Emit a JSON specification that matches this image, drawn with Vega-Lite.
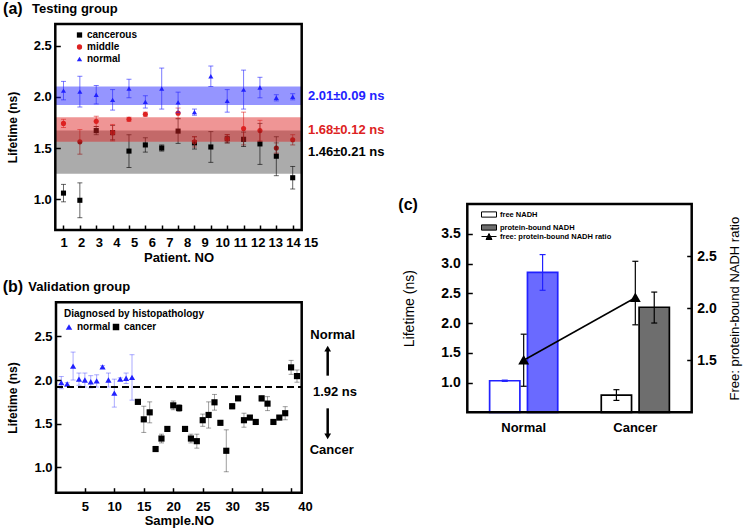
{
  "$schema": "https://vega.github.io/schema/vega-lite/v6.json",
  "width": 743,
  "height": 531,
  "autosize": {"type": "none"},
  "padding": 0,
  "background": "white",
  "config": {
    "view": {"stroke": null},
    "font": "Liberation Sans",
    "axis": {"grid": false, "domain": false, "labelColor": "black", "titleColor": "black", "tickColor": "black", "tickWidth": 1.5, "labelFont": "Liberation Sans", "titleFont": "Liberation Sans", "labelFontWeight": "bold", "titleFontWeight": "bold", "labelFlush": false, "labelOverlap": false},
    "legend": {"labelFont": "Liberation Sans", "titleFont": "Liberation Sans", "labelFontWeight": "bold", "titleFontWeight": "bold", "labelColor": "black", "titleColor": "black", "padding": 0},
    "text": {"font": "Liberation Sans"}
  },
  "datasets": {
    "a": [
      {"p": 1, "g": "cancerous", "v": 1.06, "e": 0.085},
      {"p": 2, "g": "cancerous", "v": 0.99, "e": 0.17},
      {"p": 3, "g": "cancerous", "v": 1.67, "e": 0.04},
      {"p": 4, "g": "cancerous", "v": 1.65, "e": 0.07},
      {"p": 5, "g": "cancerous", "v": 1.47, "e": 0.16},
      {"p": 6, "g": "cancerous", "v": 1.53, "e": 0.07},
      {"p": 7, "g": "cancerous", "v": 1.50, "e": 0.03},
      {"p": 8, "g": "cancerous", "v": 1.665, "e": 0.12},
      {"p": 9, "g": "cancerous", "v": 1.55, "e": 0.06},
      {"p": 10, "g": "cancerous", "v": 1.51, "e": 0.15},
      {"p": 11, "g": "cancerous", "v": 1.59, "e": 0.04},
      {"p": 12, "g": "cancerous", "v": 1.585, "e": 0.07},
      {"p": 13, "g": "cancerous", "v": 1.54, "e": 0.2},
      {"p": 14, "g": "cancerous", "v": 1.42, "e": 0.19},
      {"p": 15, "g": "cancerous", "v": 1.21, "e": 0.11},
      {"p": 1, "g": "middle", "v": 1.74, "e": 0.04},
      {"p": 2, "g": "middle", "v": 1.56, "e": 0.12},
      {"p": 3, "g": "middle", "v": 1.76, "e": 0.05},
      {"p": 4, "g": "middle", "v": 1.65, "e": 0.08},
      {"p": 5, "g": "middle", "v": 1.78, "e": 0.02},
      {"p": 6, "g": "middle", "v": 1.83, "e": 0.02},
      {"p": 8, "g": "middle", "v": 1.84, "e": 0.05},
      {"p": 9, "g": "middle", "v": 1.56, "e": 0.05},
      {"p": 11, "g": "middle", "v": 1.59, "e": 0.04},
      {"p": 12, "g": "middle", "v": 1.69, "e": 0.16},
      {"p": 13, "g": "middle", "v": 1.67, "e": 0.1},
      {"p": 14, "g": "middle", "v": 1.50, "e": 0.05},
      {"p": 15, "g": "middle", "v": 1.58, "e": 0.05},
      {"p": 1, "g": "normal", "v": 2.06, "e": 0.09},
      {"p": 2, "g": "normal", "v": 2.05, "e": 0.15},
      {"p": 3, "g": "normal", "v": 2.02, "e": 0.09},
      {"p": 4, "g": "normal", "v": 1.97, "e": 0.1},
      {"p": 5, "g": "normal", "v": 2.08, "e": 0.09},
      {"p": 6, "g": "normal", "v": 1.95, "e": 0.06},
      {"p": 7, "g": "normal", "v": 2.08, "e": 0.2},
      {"p": 8, "g": "normal", "v": 1.945, "e": 0.1},
      {"p": 9, "g": "normal", "v": 1.85, "e": 0.03},
      {"p": 10, "g": "normal", "v": 2.2, "e": 0.1},
      {"p": 11, "g": "normal", "v": 1.96, "e": 0.11},
      {"p": 12, "g": "normal", "v": 2.07, "e": 0.19},
      {"p": 13, "g": "normal", "v": 2.09, "e": 0.1},
      {"p": 14, "g": "normal", "v": 1.99, "e": 0.03},
      {"p": 15, "g": "normal", "v": 2.0, "e": 0.03}
    ],
    "bands": [
      {"g": "cancerous", "m": 1.46, "lo": 1.25, "hi": 1.67, "label": "1.46±0.21 ns"},
      {"g": "middle", "m": 1.68, "lo": 1.56, "hi": 1.80, "label": "1.68±0.12 ns"},
      {"g": "normal", "m": 2.01, "lo": 1.92, "hi": 2.10, "label": "2.01±0.09 ns"}
    ],
    "b": [
      {"s": 1, "g": "normal", "v": 1.97, "e": 0.07},
      {"s": 2, "g": "normal", "v": 1.955, "e": 0.015},
      {"s": 3, "g": "normal", "v": 2.16, "e": 0.16},
      {"s": 4, "g": "normal", "v": 2.01, "e": 0.07},
      {"s": 5, "g": "normal", "v": 2.0, "e": 0.08},
      {"s": 6, "g": "normal", "v": 1.98, "e": 0.07},
      {"s": 7, "g": "normal", "v": 1.99, "e": 0.07},
      {"s": 8, "g": "normal", "v": 2.15, "e": 0.015},
      {"s": 9, "g": "normal", "v": 2.0, "e": 0.08},
      {"s": 10, "g": "normal", "v": 1.85, "e": 0.16},
      {"s": 11, "g": "normal", "v": 2.01, "e": 0.015},
      {"s": 12, "g": "normal", "v": 2.02, "e": 0.06},
      {"s": 13, "g": "normal", "v": 2.03, "e": 0.26},
      {"s": 14, "g": "cancer", "v": 1.75, "e": 0.015},
      {"s": 15, "g": "cancer", "v": 1.55, "e": 0.15},
      {"s": 16, "g": "cancer", "v": 1.63, "e": 0.12},
      {"s": 17, "g": "cancer", "v": 1.21, "e": 0.015},
      {"s": 18, "g": "cancer", "v": 1.33, "e": 0.05},
      {"s": 19, "g": "cancer", "v": 1.44, "e": 0.015},
      {"s": 20, "g": "cancer", "v": 1.71, "e": 0.05},
      {"s": 21, "g": "cancer", "v": 1.68, "e": 0.04},
      {"s": 22, "g": "cancer", "v": 1.44, "e": 0.015},
      {"s": 23, "g": "cancer", "v": 1.33, "e": 0.05},
      {"s": 24, "g": "cancer", "v": 1.30, "e": 0.08},
      {"s": 25, "g": "cancer", "v": 1.54, "e": 0.07},
      {"s": 26, "g": "cancer", "v": 1.60, "e": 0.15},
      {"s": 27, "g": "cancer", "v": 1.745, "e": 0.09},
      {"s": 28, "g": "cancer", "v": 1.51, "e": 0.02},
      {"s": 29, "g": "cancer", "v": 1.19, "e": 0.24},
      {"s": 30, "g": "cancer", "v": 1.70, "e": 0.03},
      {"s": 31, "g": "cancer", "v": 1.79, "e": 0.015},
      {"s": 32, "g": "cancer", "v": 1.54, "e": 0.08},
      {"s": 33, "g": "cancer", "v": 1.57, "e": 0.02},
      {"s": 34, "g": "cancer", "v": 1.52, "e": 0.015},
      {"s": 35, "g": "cancer", "v": 1.79, "e": 0.03},
      {"s": 36, "g": "cancer", "v": 1.73, "e": 0.08},
      {"s": 37, "g": "cancer", "v": 1.52, "e": 0.02},
      {"s": 38, "g": "cancer", "v": 1.57, "e": 0.015},
      {"s": 39, "g": "cancer", "v": 1.62, "e": 0.075},
      {"s": 40, "g": "cancer", "v": 2.145, "e": 0.08},
      {"s": 41, "g": "cancer", "v": 2.045, "e": 0.07}
    ],
    "c": [
      {"grp": "Normal", "t": "free", "ftype": "free NADH", "v": 1.03, "lo": 1.02, "hi": 1.04},
      {"grp": "Normal", "t": "protein", "ftype": "protein-bound NADH (normal)", "v": 2.85, "lo": 2.55, "hi": 3.15},
      {"grp": "Cancer", "t": "free", "ftype": "free NADH", "v": 0.79, "lo": 0.70, "hi": 0.88},
      {"grp": "Cancer", "t": "protein", "ftype": "protein-bound NADH", "v": 2.265, "lo": 2.0, "hi": 2.52}
    ],
    "r": [
      {"grp": "Normal", "s": "free: protein-bound NADH ratio", "r": 1.50, "lo": 1.25, "hi": 1.75},
      {"grp": "Cancer", "s": "free: protein-bound NADH ratio", "r": 2.10, "lo": 1.84, "hi": 2.45}
    ]
  },
  "layer": [
    {
      "layer": [
        {
          "data": {"name": "a"},
          "mark": {"type": "point", "filled": true, "opacity": 1, "size": 26},
          "encoding": {
            "x": {"field": "p", "type": "quantitative", "title": "Patient. NO", "scale": {"domain": [0.5, 15.55], "range": [55.3, 301.7], "nice": false, "zero": false},
              "axis": {"orient": "bottom", "offset": -301, "values": [1,2,3,4,5,6,7,8,9,10,11,12,13,14,15], "format": "d", "tickSize": -5, "labelPadding": 11, "labelFontSize": 13, "title": "Patient. NO", "titleFontSize": 13, "titlePadding": 2,
                "labelOffset": {"expr": "(datum.value-1)*1.28"}}},
            "y": {"field": "v", "type": "quantitative", "title": "Lifetime (ns)", "scale": {"domain": [0.7, 2.71], "range": [230, 24], "nice": false, "zero": false},
              "axis": {"orient": "left", "offset": -55.3, "values": [1, 1.5, 2, 2.5], "format": ".1f", "tickSize": -5, "labelPadding": 9, "labelFontSize": 13, "title": "Lifetime (ns)", "titleFontSize": 12, "titlePadding": 14}},
            "color": {"field": "g", "type": "nominal", "scale": {"domain": ["cancerous", "middle", "normal"], "range": ["black", "#dd2222", "#2222ff"]},
              "legend": {"orient": "none", "legendX": 74.5, "legendY": 30, "title": null, "labelFontSize": 10, "symbolSize": 28, "labelOffset": 2.5, "rowPadding": 2, "symbolStrokeWidth": 0, "symbolOpacity": 1}},
            "shape": {"field": "g", "type": "nominal", "scale": {"domain": ["cancerous", "middle", "normal"], "range": ["square", "circle", "triangle-up"]},
              "legend": {"orient": "none", "legendX": 74.5, "legendY": 30, "title": null, "labelFontSize": 10, "symbolSize": 28, "labelOffset": 2.5, "rowPadding": 2, "symbolStrokeWidth": 0, "symbolOpacity": 1}}
          }
        },
        {
          "data": {"name": "a"},
          "mark": {"type": "errorbar", "ticks": true, "size": 5, "thickness": 1, "opacity": 0.6},
          "encoding": {
            "x": {"field": "p", "type": "quantitative", "title": "Patient. NO"},
            "y": {"field": "v", "type": "quantitative", "title": "Lifetime (ns)"},
            "yError": {"field": "e"},
            "color": {"field": "g", "type": "nominal", "legend": null}
          }
        },
        {
          "data": {"name": "bands"},
          "mark": {"type": "rect"},
          "encoding": {
            "x": {"datum": 0.5, "type": "quantitative"},
            "x2": {"datum": 15.55},
            "y": {"field": "lo", "type": "quantitative", "title": "Lifetime (ns)"},
            "y2": {"field": "hi"},
            "fill": {"condition": [{"test": "datum.g == 'normal'", "value": "#2222ff"}, {"test": "datum.g == 'middle'", "value": "#dd2222"}], "value": "black"},
            "fillOpacity": {"condition": {"test": "datum.g == 'cancerous'", "value": 0.33}, "value": 0.48}
          }
        },
        {
          "data": {"name": "bands"},
          "mark": {"type": "text", "align": "left", "baseline": "middle", "fontSize": 13, "fontWeight": "bold"},
          "encoding": {
            "x": {"datum": 15.93, "type": "quantitative"},
            "y": {"field": "m", "type": "quantitative", "title": "Lifetime (ns)"},
            "text": {"field": "label"},
            "color": {"field": "g", "type": "nominal", "legend": null}
          }
        },
        {
          "data": {"values": [{}]},
          "mark": {"type": "rect", "filled": false, "stroke": "black", "strokeWidth": 2.5},
          "encoding": {"x": {"datum": 0.5, "type": "quantitative"}, "x2": {"datum": 15.55}, "y": {"datum": 0.7, "type": "quantitative"}, "y2": {"datum": 2.71}}
        },
        {
          "data": {"values": [{}]},
          "mark": {"type": "text", "text": "(a)", "fontSize": 16, "fontWeight": "bold", "align": "left", "baseline": "middle", "color": "black"},
          "encoding": {"x": {"datum": -2.69, "type": "quantitative"}, "y": {"datum": 2.856, "type": "quantitative"}}
        },
        {
          "data": {"values": [{}]},
          "mark": {"type": "text", "text": "Testing group", "fontSize": 13, "fontWeight": "bold", "align": "left", "baseline": "middle", "color": "black"},
          "encoding": {"x": {"datum": -0.92, "type": "quantitative"}, "y": {"datum": 2.856, "type": "quantitative"}}
        }
      ]
    },
    {
      "layer": [
        {
          "data": {"name": "b"},
          "mark": {"type": "point", "filled": true, "opacity": 1, "size": 38},
          "encoding": {
            "x": {"field": "s", "type": "quantitative", "title": "Sample.NO", "scale": {"domain": [0.1, 41.8], "range": [56, 301.7], "nice": false, "zero": false},
              "axis": {"orient": "bottom", "offset": -38.3, "values": [5,10,15,20,25,30,35,40], "format": "d", "tickSize": -5, "labelPadding": 13, "labelFontSize": 13, "title": "Sample.NO", "titleFontSize": 13, "titlePadding": 1,
                "labelOffset": {"expr": "datum.value == 40 ? 14 : 0"}}},
            "y": {"field": "v", "type": "quantitative", "title": "Lifetime (ns)", "scale": {"domain": [0.71, 2.89], "range": [492.7, 302.3], "nice": false, "zero": false},
              "axis": {"orient": "left", "offset": -56, "values": [1, 1.5, 2, 2.5], "format": ".1f", "tickSize": -5, "labelPadding": 9, "labelFontSize": 13, "title": "Lifetime (ns)", "titleFontSize": 12, "titlePadding": 14}},
            "color": {"field": "g", "type": "nominal", "scale": {"domain": ["normal", "cancer"], "range": ["#2222ff", "black"]},
              "legend": {"orient": "none", "legendX": 64, "legendY": 309, "title": "Diagnosed by histopathology", "titleFontSize": 10, "titlePadding": 3, "direction": "horizontal", "labelFontSize": 10, "symbolSize": 42, "labelOffset": 3, "columnPadding": 0, "symbolStrokeWidth": 0, "symbolOpacity": 1}},
            "shape": {"field": "g", "type": "nominal", "scale": {"domain": ["normal", "cancer"], "range": ["triangle-up", "square"]},
              "legend": {"orient": "none", "legendX": 64, "legendY": 309, "title": "Diagnosed by histopathology", "titleFontSize": 10, "titlePadding": 3, "direction": "horizontal", "labelFontSize": 10, "symbolSize": 42, "labelOffset": 3, "columnPadding": 0, "symbolStrokeWidth": 0, "symbolOpacity": 1}}
          }
        },
        {
          "data": {"name": "b"},
          "mark": {"type": "errorbar", "ticks": true, "size": 5, "thickness": 1, "opacity": 0.38},
          "encoding": {
            "x": {"field": "s", "type": "quantitative", "title": "Sample.NO"},
            "y": {"field": "v", "type": "quantitative", "title": "Lifetime (ns)"},
            "yError": {"field": "e"},
            "color": {"field": "g", "type": "nominal", "legend": null}
          }
        },
        {
          "data": {"values": [{}]},
          "mark": {"type": "rule", "strokeDash": [7, 4], "strokeWidth": 2, "color": "black"},
          "encoding": {"x": {"datum": 0.1, "type": "quantitative"}, "x2": {"datum": 41.8}, "y": {"datum": 1.92, "type": "quantitative"}}
        },
        {
          "data": {"values": [{}]},
          "mark": {"type": "rule", "strokeWidth": 2.5, "color": "black"},
          "encoding": {"x": {"datum": 46.21, "type": "quantitative"}, "y": {"datum": 2.05, "type": "quantitative"}, "y2": {"datum": 2.34}}
        },
        {
          "data": {"values": [{}]},
          "mark": {"type": "rule", "strokeWidth": 2.5, "color": "black"},
          "encoding": {"x": {"datum": 46.21, "type": "quantitative"}, "y": {"datum": 1.676, "type": "quantitative"}, "y2": {"datum": 1.38}}
        },
        {
          "data": {"values": [{}]},
          "mark": {"type": "point", "shape": "triangle-up", "filled": true, "size": 45, "color": "black", "opacity": 1},
          "encoding": {"x": {"datum": 46.21, "type": "quantitative"}, "y": {"datum": 2.36, "type": "quantitative"}}
        },
        {
          "data": {"values": [{}]},
          "mark": {"type": "point", "shape": "triangle-down", "filled": true, "size": 45, "color": "black", "opacity": 1},
          "encoding": {"x": {"datum": 46.21, "type": "quantitative"}, "y": {"datum": 1.355, "type": "quantitative"}}
        },
        {
          "data": {"values": [{}]},
          "mark": {"type": "text", "text": "Normal", "fontSize": 13, "fontWeight": "bold", "align": "center", "baseline": "middle", "color": "black"},
          "encoding": {"x": {"datum": 47.06, "type": "quantitative"}, "y": {"datum": 2.52, "type": "quantitative"}}
        },
        {
          "data": {"values": [{}]},
          "mark": {"type": "text", "text": "1.92 ns", "fontSize": 13, "fontWeight": "bold", "align": "center", "baseline": "middle", "color": "black"},
          "encoding": {"x": {"datum": 47.45, "type": "quantitative"}, "y": {"datum": 1.866, "type": "quantitative"}}
        },
        {
          "data": {"values": [{}]},
          "mark": {"type": "text", "text": "Cancer", "fontSize": 13, "fontWeight": "bold", "align": "center", "baseline": "middle", "color": "black"},
          "encoding": {"x": {"datum": 46.89, "type": "quantitative"}, "y": {"datum": 1.199, "type": "quantitative"}}
        },
        {
          "data": {"values": [{}]},
          "mark": {"type": "rect", "filled": false, "stroke": "black", "strokeWidth": 2.5},
          "encoding": {"x": {"datum": 0.1, "type": "quantitative"}, "x2": {"datum": 41.8}, "y": {"datum": 0.71, "type": "quantitative"}, "y2": {"datum": 2.89}}
        },
        {
          "data": {"values": [{}]},
          "mark": {"type": "text", "text": "(b)", "fontSize": 16, "fontWeight": "bold", "align": "left", "baseline": "middle", "color": "black"},
          "encoding": {"x": {"datum": -8.95, "type": "quantitative"}, "y": {"datum": 3.069, "type": "quantitative"}}
        },
        {
          "data": {"values": [{}]},
          "mark": {"type": "text", "text": "Validation group", "fontSize": 13, "fontWeight": "bold", "align": "left", "baseline": "middle", "color": "black"},
          "encoding": {"x": {"datum": -4.6, "type": "quantitative"}, "y": {"datum": 3.069, "type": "quantitative"}}
        }
      ]
    },
    {
      "layer": [
        {
          "layer": [
            {
              "data": {"name": "c"},
              "mark": {"type": "bar", "strokeWidth": 1.7},
              "encoding": {
                "x": {"field": "grp", "type": "nominal", "sort": null, "scale": {"domain": ["Normal", "Cancer"], "range": [467.3, 691.7], "paddingInner": 0.39, "paddingOuter": 0.2},
                  "axis": {"orient": "bottom", "offset": -118.7, "ticks": false, "labelPadding": 9, "labelFontSize": 13, "labelAngle": 0, "title": null}},
                "xOffset": {"field": "t", "type": "nominal", "scale": {"domain": ["free", "protein"], "range": [0, 68.1], "paddingInner": 0.2, "paddingOuter": 0}},
                "y": {"field": "v", "type": "quantitative", "scale": {"domain": [0.5, 4.0], "range": [412.3, 204], "nice": false, "zero": false},
                  "axis": {"orient": "left", "offset": -467.3, "values": [1, 1.5, 2, 2.5, 3, 3.5], "format": ".1f", "tickSize": -5, "labelPadding": 12, "labelFontSize": 14, "title": "Lifetime (ns)", "titleFontSize": 14, "titleFontWeight": "normal", "titlePadding": 24}},
                "y2": {"datum": 0.5},
                "fill": {"field": "ftype", "type": "nominal", "scale": {"domain": ["free NADH", "protein-bound NADH", "protein-bound NADH (normal)"], "range": ["white", "#6e6e6e", "#6a6aff"]},
                  "legend": {"orient": "none", "legendX": 481, "legendY": 206.5, "title": null, "values": ["free NADH", "protein-bound NADH"], "symbolType": "M-1,-0.35H1V0.35H-1Z", "symbolSize": 225, "symbolStrokeColor": "black", "symbolStrokeWidth": 1, "labelFontSize": 7.5, "labelOffset": 3, "rowPadding": -4}},
                "stroke": {"field": "grp", "type": "nominal", "scale": {"domain": ["Normal", "Cancer"], "range": ["#2222ff", "black"]}, "legend": null}
              }
            },
            {
              "data": {"name": "c"},
              "mark": {"type": "rule", "strokeWidth": 1.2},
              "encoding": {
                "x": {"field": "grp", "type": "nominal", "sort": null},
                "xOffset": {"field": "t", "type": "nominal"},
                "y": {"field": "lo", "type": "quantitative"},
                "y2": {"field": "hi"},
                "stroke": {"field": "grp", "type": "nominal", "legend": null}
              }
            },
            {
              "data": {"name": "c"},
              "transform": [{"fold": ["lo", "hi"], "as": ["k", "yv"]}],
              "mark": {"type": "point", "shape": "stroke", "size": 36, "strokeWidth": 1.2, "filled": false, "opacity": 1},
              "encoding": {
                "x": {"field": "grp", "type": "nominal", "sort": null},
                "xOffset": {"field": "t", "type": "nominal"},
                "y": {"field": "yv", "type": "quantitative"},
                "stroke": {"field": "grp", "type": "nominal", "legend": null}
              }
            }
          ]
        },
        {
          "layer": [
            {
              "data": {"name": "r"},
              "mark": {"type": "line", "color": "black", "strokeWidth": 1.5},
              "encoding": {
                "x": {"field": "grp", "type": "nominal", "sort": null},
                "y": {"field": "r", "type": "quantitative", "scale": {"domain": [1.0, 3.0], "range": [412.3, 204], "nice": false, "zero": false},
                  "axis": {"orient": "right", "offset": -51.3, "values": [1.5, 2, 2.5], "format": ".1f", "tickSize": -5, "labelPadding": 10, "labelFontSize": 14, "title": "Free: protein-bound NADH ratio", "titleFontSize": 13, "titleFontWeight": "normal", "titlePadding": 12, "titleAngle": 270, "titleBaseline": "top"}}
              }
            },
            {
              "data": {"name": "r"},
              "mark": {"type": "rule", "color": "black", "strokeWidth": 1.2},
              "encoding": {
                "x": {"field": "grp", "type": "nominal", "sort": null},
                "y": {"field": "lo", "type": "quantitative"},
                "y2": {"field": "hi"}
              }
            },
            {
              "data": {"name": "r"},
              "transform": [{"fold": ["lo", "hi"], "as": ["k", "yv"]}],
              "mark": {"type": "point", "shape": "stroke", "size": 36, "strokeWidth": 1.2, "filled": false, "color": "black", "opacity": 1},
              "encoding": {
                "x": {"field": "grp", "type": "nominal", "sort": null},
                "y": {"field": "yv", "type": "quantitative"}
              }
            },
            {
              "data": {"name": "r"},
              "mark": {"type": "point", "shape": "triangle-up", "filled": true, "size": 55, "stroke": "black", "opacity": 1},
              "encoding": {
                "x": {"field": "grp", "type": "nominal", "sort": null},
                "y": {"field": "r", "type": "quantitative"},
                "color": {"field": "s", "type": "nominal", "scale": {"domain": ["free: protein-bound NADH ratio"], "range": ["black"]},
                  "legend": {"orient": "none", "legendX": 481, "legendY": 228.5, "title": null, "symbolType": "M-1,0H1M-0.4,0.4L0,-0.4L0.4,0.4Z", "symbolSize": 225, "symbolStrokeColor": "black", "symbolStrokeWidth": 1, "labelFontSize": 7.5, "labelOffset": 3}}
              }
            }
          ]
        }
      ],
      "resolve": {"scale": {"y": "independent"}}
    },
    {
      "layer": [
        {
          "data": {"values": [{}]},
          "mark": {"type": "rect", "filled": false, "stroke": "black", "strokeWidth": 2.5},
          "encoding": {
            "x": {"datum": 0, "type": "quantitative", "scale": {"domain": [0, 1], "range": [467.3, 691.7], "nice": false, "zero": false}, "axis": null},
            "x2": {"datum": 1},
            "y": {"datum": 0, "type": "quantitative", "scale": {"domain": [0, 1], "range": [412.3, 204], "nice": false, "zero": false}, "axis": null},
            "y2": {"datum": 1}
          }
        },
        {
          "data": {"values": [{}]},
          "mark": {"type": "text", "text": "(c)", "fontSize": 16, "fontWeight": "bold", "align": "left", "baseline": "middle", "color": "black"},
          "encoding": {"x": {"datum": -0.3075, "type": "quantitative"}, "y": {"datum": 0.995, "type": "quantitative"}}
        }
      ]
    }
  ],
  "resolve": {"scale": {"x": "independent", "y": "independent", "color": "independent", "shape": "independent", "fill": "independent", "stroke": "independent"}}
}
